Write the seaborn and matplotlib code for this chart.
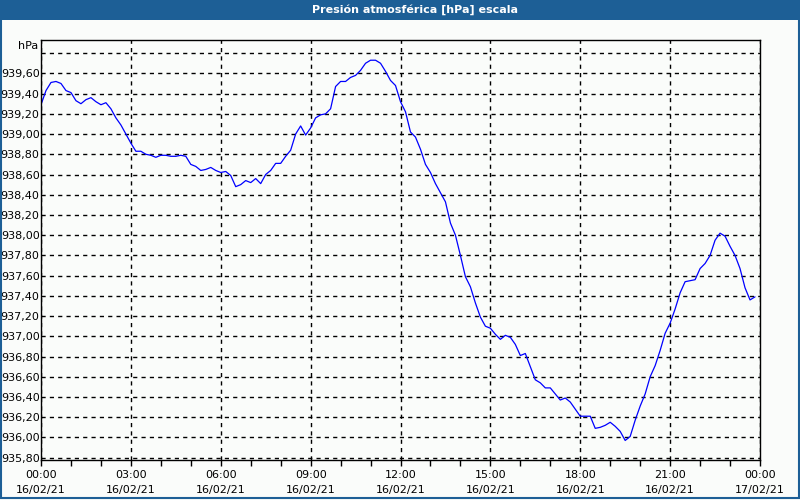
import matplotlib
matplotlib.use("Agg")
import matplotlib.pyplot as plt
import matplotlib.dates as mdates
from matplotlib.patches import Rectangle
import seaborn as sns
import pandas as pd
import numpy as np

sns.set_theme(style="white")
plt.rcParams['font.family'] = ['DejaVu Sans']

title = "Presión atmosférica [hPa] escala"
unit_label = "hPa"
start_time = "2021-02-16 00:00"
end_time = "2021-02-17 00:00"
step_minutes = 10

pressure = [
    939.29, 939.43, 939.51, 939.52, 939.50, 939.43, 939.41, 939.33, 939.30, 939.34,
    939.36, 939.32, 939.29, 939.31, 939.25, 939.16, 939.09, 939.00, 938.91, 938.83,
    938.83, 938.80, 938.79, 938.77, 938.79, 938.79, 938.78, 938.78, 938.79, 938.78,
    938.70, 938.68, 938.64, 938.65, 938.67, 938.64, 938.62, 938.63, 938.59, 938.48,
    938.50, 938.54, 938.52, 938.56, 938.51, 938.60, 938.64, 938.71, 938.71, 938.78,
    938.84, 939.00, 939.08, 938.99, 939.06, 939.16, 939.19, 939.20, 939.25, 939.47,
    939.52, 939.52, 939.56, 939.58, 939.63, 939.70, 939.73, 939.73, 939.70, 939.62,
    939.53, 939.48, 939.32, 939.22, 939.02, 938.97, 938.85, 938.70, 938.62, 938.51,
    938.42, 938.33, 938.12, 938.00, 937.80, 937.59, 937.49, 937.33, 937.19, 937.10,
    937.08, 937.02, 936.97, 937.01, 936.99, 936.92, 936.81, 936.83, 936.70, 936.57,
    936.54, 936.49, 936.49, 936.43, 936.37, 936.39, 936.35, 936.28, 936.21, 936.21,
    936.21, 936.09, 936.10, 936.12, 936.15, 936.11, 936.06, 935.97, 936.01, 936.17,
    936.31, 936.43, 936.60, 936.71, 936.86, 937.03, 937.13, 937.27, 937.43, 937.54,
    937.55, 937.56, 937.67, 937.72, 937.80, 937.95, 938.02, 937.99, 937.89, 937.80,
    937.67, 937.48, 937.36, 937.39,
]

y_ticks = [935.8, 936.0, 936.2, 936.4, 936.6, 936.8, 937.0, 937.2, 937.4, 937.6,
           937.8, 938.0, 938.2, 938.4, 938.6, 938.8, 939.0, 939.2, 939.4, 939.6, 939.8]
y_tick_labels = ["935,80", "936,00", "936,20", "936,40", "936,60", "936,80", "937,00",
                 "937,20", "937,40", "937,60", "937,80", "938,00", "938,20", "938,40",
                 "938,60", "938,80", "939,00", "939,20", "939,40", "939,60", ""]
y_limits = (935.777, 939.93)

times = pd.date_range(start_time, periods=len(pressure), freq=f"{step_minutes}min")
df = pd.DataFrame({"time": times, "pressure": pressure})

bg = "#FAFCFA"
blue_bar = "#1D5F96"

fig = plt.figure(figsize=(8, 5), dpi=100, facecolor=bg)
ax = fig.add_axes([41/800, 40/500, 719/800, 420/500])
ax.set_facecolor(bg)

sns.lineplot(data=df, x="time", y="pressure", ax=ax, color="#0000FF", linewidth=0.9)

ax.set_xlim(pd.Timestamp(start_time), pd.Timestamp(end_time))
ax.set_ylim(*y_limits)
ax.set_yticks(y_ticks)
ax.set_yticklabels(y_tick_labels)
ax.xaxis.set_major_locator(mdates.HourLocator(byhour=range(0, 24, 3)))
ax.xaxis.set_minor_locator(mdates.HourLocator())
ax.xaxis.set_major_formatter(mdates.DateFormatter("%H:%M\n%d/%m/%y"))

ax.grid(True, which="major", color="black", linestyle=(0, (3, 3)), linewidth=1.0)
ax.set_xlabel("")
ax.set_ylabel("")
for s in ax.spines.values():
    s.set_color("black")
    s.set_linewidth(1.0)
    s.set_visible(True)

ax.tick_params(axis="y", which="both", length=0, pad=1, labelsize=8, colors="black")
ax.tick_params(axis="x", which="major", bottom=True, length=4, width=1, pad=3,
               direction="out", labelsize=8, colors="black")
ax.tick_params(axis="x", which="minor", bottom=True, length=4, width=1, direction="out",
               colors="black")
for lbl in ax.get_xticklabels():
    lbl.set_linespacing(1.6)

fig.text(38/800, 1 - 46/500, unit_label, ha="right", va="center", fontsize=8, color="black")

# title bar and window border
fig.patches.append(Rectangle((0, 1 - 20/500), 1, 20/500, transform=fig.transFigure,
                             facecolor=blue_bar, edgecolor="none", zorder=0))
fig.patches.append(Rectangle((0.5/800, 2.5/500), 798/800, 497/500, transform=fig.transFigure,
                             facecolor="none", edgecolor=blue_bar, linewidth=1.5, zorder=5))
fig.text(415/800, 1 - 10/500, title, ha="center", va="center", fontsize=8, fontweight="bold",
         color="white")

fig.savefig("out.png", dpi=100, facecolor=bg)
